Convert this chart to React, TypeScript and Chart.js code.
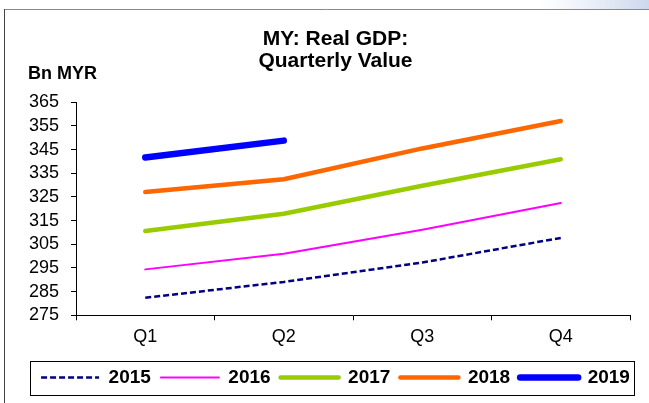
import React, { useEffect, useRef } from "react";
import { Chart, registerables } from "chart.js";

Chart.register(...registerables);

// ---- Data ----
const quarters = ["Q1", "Q2", "Q3", "Q4"];
const seriesLabels = ["2015", "2016", "2017", "2018", "2019"];
const gdp2015 = [282.4, 289.1, 297.3, 307.7];
const gdp2016 = [294.4, 301.0, 311.1, 322.4];
const gdp2017 = [310.6, 317.9, 329.7, 340.9];
const gdp2018 = [327.1, 332.5, 345.5, 357.1];
const gdp2019 = [341.7, 348.8, null, null];
const yMin = 275;
const yMax = 365;
const yStep = 10;
const titleLines = ["MY: Real GDP:", "Quarterly Value"];
const unitLabel = "Bn MYR";

// ---- Styles ----
const FONT = "'Liberation Sans', Arial, Helvetica, sans-serif";
const seriesStyles = [
  { color: "#000080", width: 2.5, dash: [6, 3], cap: "butt" },
  { color: "#FF00FF", width: 2, dash: [], cap: "round" },
  { color: "#99CC00", width: 4.5, dash: [], cap: "round" },
  { color: "#FF6600", width: 4.5, dash: [], cap: "round" },
  { color: "#0000FF", width: 6.5, dash: [], cap: "round" },
];

const seriesData = [gdp2015, gdp2016, gdp2017, gdp2018, gdp2019];

const decorPlugin = {
  id: "decor",
  beforeDraw(chart: any) {
    const ctx = chart.ctx;
    ctx.save();
    const g = ctx.createLinearGradient(540, 0, 649, 0);
    g.addColorStop(0, "rgba(215,225,242,0)");
    g.addColorStop(1, "rgba(205,216,238,1)");
    ctx.fillStyle = g;
    ctx.fillRect(540, 0, 109, 9);
    ctx.restore();
  },
  afterDraw(chart: any) {
    const ctx = chart.ctx;
    ctx.save();
    // frame
    ctx.lineWidth = 1;
    ctx.strokeStyle = "#8a8a8a";
    ctx.beginPath();
    ctx.moveTo(4, 9.5);
    ctx.lineTo(649, 9.5);
    ctx.stroke();
    ctx.strokeStyle = "#444";
    ctx.beginPath();
    ctx.moveTo(4.5, 9);
    ctx.lineTo(4.5, 403);
    ctx.stroke();
    // unit label
    ctx.fillStyle = "#000";
    ctx.font = `bold 18px ${FONT}`;
    ctx.textBaseline = "middle";
    ctx.textAlign = "left";
    ctx.fillText(unitLabel, 28, 74.5);
    // legend box
    const lg = chart.legend;
    const hb = lg && lg.legendHitBoxes;
    if (hb && hb.length) {
      const first = hb[0];
      const last = hb[hb.length - 1];
      const cy = first.top + 9.5;
      const left = Math.round(first.left - 11) + 0.5;
      const right = Math.round(last.left + last.width + 4) + 0.5;
      const top = Math.round(cy - 17) + 0.5;
      const bottom = Math.round(cy + 17) + 0.5;
      ctx.strokeStyle = "#000";
      ctx.lineWidth = 1;
      ctx.strokeRect(left, top, right - left, bottom - top);
    }
    ctx.restore();
  },
};

export default function App() {
  const ref = useRef<HTMLCanvasElement>(null);
  useEffect(() => {
    if (!ref.current) return;
    const datasets = seriesLabels.map((label, i) => ({
      label,
      data: seriesData[i],
      borderColor: seriesStyles[i].color,
      backgroundColor: seriesStyles[i].color,
      borderWidth: seriesStyles[i].width,
      borderDash: seriesStyles[i].dash,
      borderCapStyle: seriesStyles[i].cap,
      borderJoinStyle: "round",
      pointRadius: 0,
      pointHoverRadius: 0,
      pointStyle: "line",
      tension: 0,
      fill: false,
      spanGaps: false,
      yAxisID: "y",
    }));
    const chart = new Chart(ref.current, {
      type: "line",
      data: { labels: quarters, datasets },
      plugins: [decorPlugin],
      options: {
        animation: false,
        responsive: false,
        devicePixelRatio: 1,
        events: [],
        layout: { padding: { left: 28, right: 6, top: 0, bottom: 6 } },
        font: { family: FONT },
        plugins: {
          tooltip: { enabled: false },
          title: {
            display: true,
            text: titleLines,
            color: "#000",
            font: { family: FONT, size: 21, weight: "bold", lineHeight: 1.03 },
            padding: { top: 28.4, bottom: 30.6 },
          },
          legend: {
            display: true,
            position: "bottom",
            align: "center",
            labels: {
              usePointStyle: true,
              pointStyleWidth: 58,
              padding: 10,
              color: "#000",
              font: { family: FONT, size: 19, weight: "bold" },
              generateLabels: () =>
                seriesLabels.map((label, i) => ({
                  text: label,
                  fillStyle: seriesStyles[i].color,
                  strokeStyle: seriesStyles[i].color,
                  lineWidth: seriesStyles[i].width,
                  lineDash: seriesStyles[i].dash,
                  lineCap: seriesStyles[i].cap,
                  pointStyle: "line",
                  hidden: false,
                  datasetIndex: i,
                  fontColor: "#000",
                })),
            },
          },
        },
        scales: {
          x: {
            type: "category",
            offset: true,
            grid: {
              offset: true,
              drawOnChartArea: false,
              drawTicks: true,
              tickLength: 5,
              color: "#000",
              lineWidth: 1,
            },
            border: { display: true, color: "#000", width: 1 },
            ticks: {
              color: "#000",
              font: { family: FONT, size: 18 },
              padding: 6,
              maxRotation: 0,
              autoSkip: false,
            },
            afterFit: (s: any) => {
              s.height = 42.7;
            },
          },
          y: {
            type: "linear",
            position: "left",
            min: yMin,
            max: yMax,
            grid: {
              drawOnChartArea: false,
              drawTicks: true,
              tickLength: 5,
              color: "#000",
              lineWidth: 1,
            },
            border: { display: true, color: "#000", width: 1 },
            ticks: {
              stepSize: yStep,
              autoSkip: false,
              color: "#000",
              font: { family: FONT, size: 18 },
              padding: 12,
            },
            afterFit: (s: any) => {
              s.width = 48;
            },
          },
          yPad: {
            type: "linear",
            position: "right",
            display: true,
            grid: { display: false, drawTicks: false },
            border: { display: false },
            ticks: { display: false },
            afterFit: (s: any) => {
              s.width = 13;
            },
          },
        },
      },
    } as any);
    return () => chart.destroy();
  }, []);
  return (
    <div
      style={{
        position: "absolute",
        left: 0,
        top: 0,
        width: 649,
        height: 403,
        background: "#fff",
      }}
    >
      <canvas
        ref={ref}
        width={649}
        height={403}
        style={{ display: "block", width: 649, height: 403 }}
      />
    </div>
  );
}
